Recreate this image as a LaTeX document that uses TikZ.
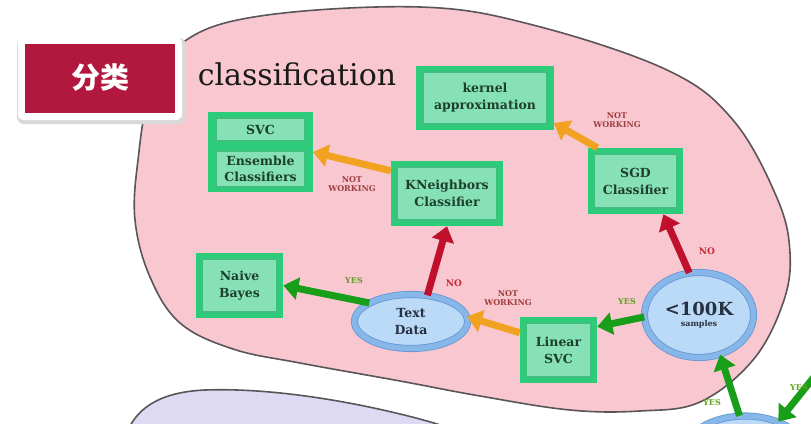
\documentclass[tikz,border=0pt]{standalone}
\usepackage{fontspec}
\setmainfont{DejaVu Serif}
\newfontfamily\cjk{Noto Sans CJK SC}
\usetikzlibrary{arrows.meta,shapes.geometric}
\definecolor{pinkbg}{RGB}{248,199,208}
\definecolor{lilac}{RGB}{222,218,243}
\definecolor{blobline}{RGB}{90,85,88}
\definecolor{redbox}{RGB}{178,24,62}
\definecolor{gout}{RGB}{45,204,122}
\definecolor{ginner}{RGB}{64,190,126}
\definecolor{gfill}{RGB}{134,226,182}
\definecolor{gtext}{RGB}{30,62,48}
\definecolor{bring}{RGB}{135,182,232}
\definecolor{bedge}{RGB}{100,150,212}
\definecolor{bfill}{RGB}{186,218,247}
\definecolor{btext}{RGB}{40,48,66}
\definecolor{aorange}{RGB}{240,162,32}
\definecolor{ared}{RGB}{192,16,44}
\definecolor{agreen}{RGB}{24,158,24}
\definecolor{lnw}{RGB}{160,62,62}
\definecolor{lno}{RGB}{200,40,56}
\definecolor{lyes}{RGB}{96,160,30}
\begin{document}
\begin{tikzpicture}[x=1pt,y=-1pt,
  gbox/.style={draw=gout, line width=5.5pt, fill=gfill, text=gtext, align=center,
    inner sep=0pt, font=\bfseries\fontsize{12.5}{17}\selectfont,
    path picture={\draw[ginner,line width=2pt]
      ([shift={(3.8pt,-3.8pt)}]path picture bounding box.north west) rectangle
      ([shift={(-3.8pt,3.8pt)}]path picture bounding box.south east);}},
  subbox/.style={draw=ginner, line width=1.5pt, fill=gfill, text=gtext, align=center,
    inner sep=0pt, font=\bfseries\fontsize{12.5}{16}\selectfont},
  bell/.style={ellipse, draw=bedge, line width=0.8pt, double=bring, double distance=5.5pt,
    fill=bfill, text=btext, align=center, inner sep=0pt},
  arr/.style={line width=7pt, -{Triangle[width=22pt,length=15pt]}},
  oarr/.style={arr, draw=aorange, fill=aorange},
  rarr/.style={arr, draw=ared, fill=ared},
  garr/.style={arr, draw=agreen, fill=agreen},
  lab/.style={font=\bfseries\fontsize{8}{9.5}\selectfont, align=center, inner sep=0pt},
  nw/.style={lab, text=lnw},
  no/.style={lab, text=lno, font=\bfseries\fontsize{9}{10}\selectfont},
  yes/.style={lab, text=lyes},
]
\useasboundingbox (0,0) rectangle (811,423);
\clip (0,0) rectangle (811,423);
\fill[white] (0,0) rectangle (811,423);

% pink blob
\draw[blobline, line width=1.6pt, fill=pinkbg] plot[smooth cycle, tension=0.62] coordinates {
  (182,43) (260,16) (420,7) (533,25) (667,70) (733,120) (777,198) (790,253)
  (783,303) (753,360) (700,402) (640,411) (570,410) (480,396) (400,381)
  (300,363) (233,349) (180,323) (150,277) (135,220) (138,160) (150,95)};

% lilac blob
\draw[blobline, line width=1.6pt, fill=lilac] (128,430) .. controls (138,408) and (160,392) .. (205,390)
  .. controls (260,388) and (330,397) .. (400,414) .. controls (425,420) and (445,426) .. (460,432) -- cycle;

% title box
\fill[black!15, rounded corners=7pt] (17,38) rectangle (186,124);
\fill[white, rounded corners=6pt] (18,37) rectangle (182,120);
\node[fill=redbox, minimum width=150pt, minimum height=69pt, inner sep=0pt,
  text=white, font=\cjk\bfseries\fontsize{29}{29}\selectfont] (cat) at (100,78) {分类};
\node[font=\fontsize{30}{30}\selectfont, text=black!90, anchor=base] (title) at (297,85) {classification};

% boxes
\node[gbox, minimum width=132pt, minimum height=59pt] (kern) at (485,98) {kernel\\approximation};
\node[gbox, minimum width=107pt, minimum height=60pt] (knn) at (447,193.5) {KNeighbors\\Classifier};
\node[gbox, minimum width=90pt, minimum height=61pt] (sgd) at (635.5,181) {SGD\\Classifier};
\node[gbox, minimum width=82pt, minimum height=60pt] (nb) at (239.5,285.5) {Naive\\Bayes};
\node[gbox, minimum width=72pt, minimum height=61pt] (lsvc) at (558.5,350) {Linear\\SVC};

% SVC / ensemble group
\node[draw=gout, fill=gout, line width=3pt, minimum width=102pt, minimum height=77pt] (svcg) at (260.5,152) {};
\node[subbox, minimum width=89pt, minimum height=23pt] (svc) at (260.5,129.5) {SVC};
\node[subbox, minimum width=89pt, minimum height=36pt] (ens) at (260.5,169) {Ensemble\\Classifiers};

% ellipses
\node[bell, minimum width=113pt, minimum height=54pt, font=\bfseries\fontsize{12.5}{17}\selectfont] (text) at (411,321.5) {Text\\Data};
\node[bell, minimum width=109pt, minimum height=85pt] (samp) at (699,315)
  {{\bfseries\fontsize{18}{20}\selectfont <100K}\\[-1pt]{\bfseries\fontsize{8}{9}\selectfont samples}};
\node[bell, minimum width=124pt, minimum height=78pt] (bot) at (745,455) {};
\coordinate (rin) at (818,372);

% arrows
\draw[oarr] (knn.158) -- (svcg.east);
\draw[oarr] (sgd.139) -- (kern.-20);
\draw[oarr] (lsvc.156) -- (text.5);
\draw[rarr] (text.58) -- (knn.south);
\draw[rarr] (samp.103) -- (sgd.-50);
\draw[garr] (text.156) -- (nb.east);
\draw[garr] (samp.182) -- (lsvc.31);
\draw[garr] (bot.98) -- (samp.-62);
\draw[garr] (rin) -- (bot.45);

% labels
\node[nw] (l1) at (352,184) {NOT\\WORKING};
\node[nw] (l2) at (617,120) {NOT\\WORKING};
\node[nw] (l3) at (508,298) {NOT\\WORKING};
\node[no] (l4) at (454,283) {NO};
\node[no] (l5) at (707,251) {NO};
\node[yes] (l6) at (354,281) {YES};
\node[yes] (l7) at (627,302) {YES};
\node[yes] (l8) at (712,403) {YES};
\node[yes] (l9) at (799,388) {YES};
\end{tikzpicture}
\end{document}
